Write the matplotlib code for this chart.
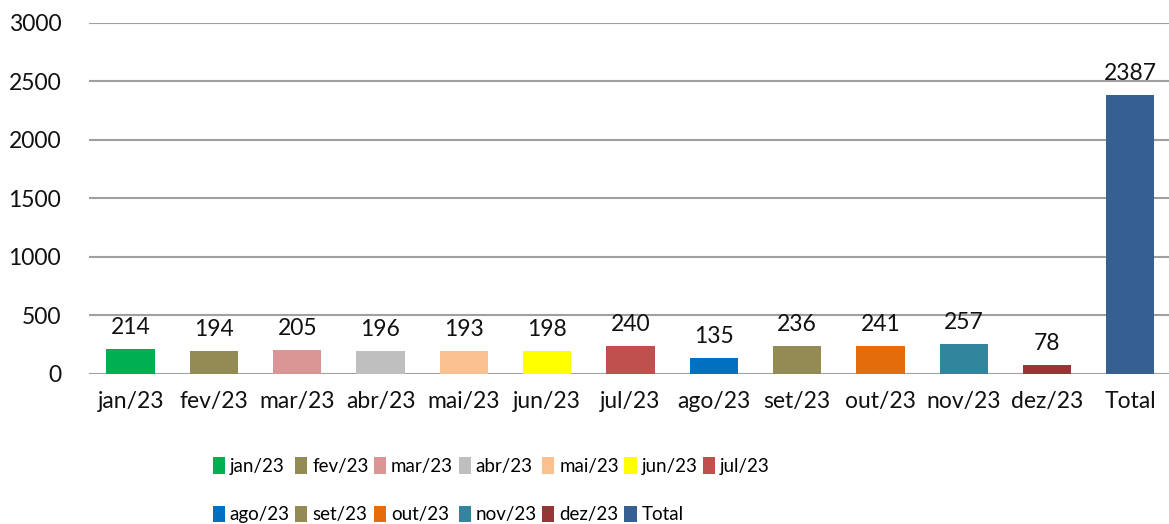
import numpy as np
import matplotlib.pyplot as plt

plt.rcParams['font.family'] = ['Lato', 'DejaVu Sans']

categories = ['jan/23', 'fev/23', 'mar/23', 'abr/23', 'mai/23', 'jun/23', 'jul/23',
              'ago/23', 'set/23', 'out/23', 'nov/23', 'dez/23', 'Total']
values = [214, 194, 205, 196, 193, 198, 240, 135, 236, 241, 257, 78, 2387]
colors = ['#00B050', '#948A54', '#D99694', '#BFBFBF', '#FAC090', '#FFFF00', '#C0504D',
          '#0070C0', '#948A54', '#E46C0A', '#31859C', '#953735', '#366092']

fig = plt.figure(figsize=(11.69, 5.24), dpi=100)
ax = fig.add_axes([0.0761, 0.2863, 0.9264, 0.670])

x = np.arange(len(categories))
bars = []
for i in range(len(categories)):
    b = ax.bar(x[i], values[i], width=0.58, color=colors[i], label=categories[i], zorder=3)
    bars.append(b)
    ax.annotate(str(values[i]), (x[i], values[i]), xytext=(0, 8), textcoords='offset points',
                ha='center', va='bottom', fontsize=16.5, color='#111111', zorder=4)

ax.set_xlim(-0.5, len(categories) - 0.5)
ax.set_ylim(0, 3000)
ax.set_yticks(np.arange(0, 3001, 500))
ax.set_xticks(x)
ax.set_xticklabels(categories)
ax.tick_params(axis='both', length=0, labelsize=16.5, colors='#111111')
ax.tick_params(axis='x', pad=12)
ax.tick_params(axis='y', pad=20)
ax.grid(axis='y', color='#a0a0a0', linewidth=1.5, zorder=0)
for s in ax.spines.values():
    s.set_visible(False)

# reorder so the legend fills row by row (7 on top, 6 below)
order = [0, 7, 1, 8, 2, 9, 3, 10, 4, 11, 5, 12, 6]
handles = [bars[i] for i in order]
labels = [categories[i] for i in order]
fig.legend(handles, labels, ncol=7, loc='upper left', bbox_to_anchor=(0.174, 0.146),
           frameon=False, handlelength=0.65, handleheight=1.0, fontsize=13.5,
           handletextpad=0.25, columnspacing=0.3, labelspacing=1.65, borderpad=0)

fig.savefig('out.png', dpi=100)
